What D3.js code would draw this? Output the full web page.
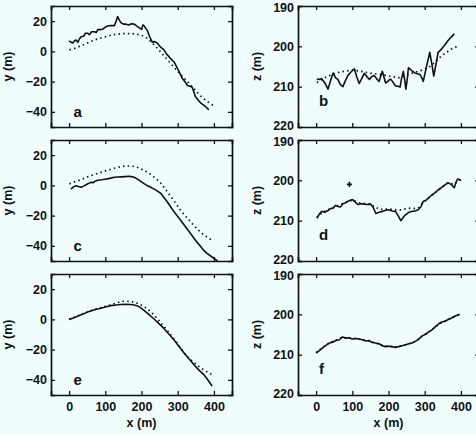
<!DOCTYPE html>
<html>
<head>
<meta charset="utf-8">
<style>
  body { margin: 0; background: #effdfd; }
  svg { display: block; }
  text { font-family: "Liberation Sans", Arial, sans-serif; font-weight: bold; fill: #111; }
</style>
<script src="https://cdnjs.cloudflare.com/ajax/libs/d3/7.8.5/d3.min.js"></script>
</head>
<body>
<div id="chart"></div>
<script>
// panel a: horizontal track y vs x, measured (solid) and model (dotted)
var aSolid = [[0,7],[6,6],[10,5.5],[15,7],[19,7.5],[24,6],[28,8],[33,9.7],[40,10],[45,12],[51,12],[56,11],[62,13],[70,13],[75,12.5],[80,14.5],[88,14.4],[95,15],[100,16],[106,16.8],[115,17],[125,17],[130,20],[134,23],[138,21],[143,19],[150,18],[157,18],[165,17.5],[172,18.2],[180,18],[188,16.5],[193,15.7],[200,14.5],[204,17.5],[207,17],[212,15],[216,14],[222,10],[230,6],[236,6.5],[244,5.4],[252,3],[262,1],[270,-2],[276,-3.5],[281,-5],[290,-7],[299,-11],[305,-14],[313,-18],[320,-20],[327,-22.6],[334,-23],[340,-23.7],[345,-27],[349,-30],[356,-32],[363,-34],[372,-35.5],[382,-37.6],[386,-38.7]];
var aDotted = [[1,1],[15,2],[33,3.7],[50,5.5],[70,7.5],[90,9],[106,10],[120,11],[134,11.4],[150,11.8],[171,11.8],[185,11.5],[198,10.8],[208,9.8],[216,8.6],[230,5.5],[244,2],[258,-1.8],[271,-5.4],[285,-9.2],[299,-13],[313,-16.5],[327,-20],[340,-23.5],[354,-27],[365,-29.8],[376,-32],[388,-34.2],[400,-36]];

// panel b: elevation z vs x
var bSolid = [[2,208.1],[9,208.2],[15,208],[24,209],[33,210.6],[40,208.5],[47,206.6],[54,207.8],[60,208.2],[67,209.5],[74,210],[81,208.5],[88,207.2],[97,206.3],[106,205.6],[112,207.5],[119,209.2],[126,208],[133,206.7],[140,207.5],[147,208.2],[153,207.6],[160,207.2],[167,208],[174,208.7],[179,207.3],[183,206.2],[188,207.8],[192,209.1],[198,208.7],[205,208.1],[212,208.8],[219,209.8],[226,209.9],[232,210.1],[236,208],[241,206.2],[245,208.5],[248,210.6],[252,208],[255,205.3],[264,206],[273,206.6],[280,206.8],[287,207],[292,207.8],[296,208.7],[305,205],[314,201.5],[320,204.5],[325,207.4],[331,204.5],[337,201.5],[343,201],[350,200.3],[357,199.5],[364,198.6],[373,197.7],[382,196.9]];
var bDotted = [[2,209],[15,208.2],[33,207.4],[50,206.8],[65,206.4],[85,206.1],[101,205.9],[125,206.2],[147,206.6],[170,206.9],[192,207.2],[210,207.5],[228,207.8],[242,207.4],[255,207],[270,206.5],[282,206.2],[296,205.8],[310,205.3],[328,204],[346,202.4],[360,201.5],[373,200.7],[385,200.2],[395,199.9]];

// panel c
var cSolid = [[5,-2.5],[12,-1],[19,-0.2],[26,-0.8],[33,-1.3],[40,-0.5],[47,0.4],[53,1.2],[60,2],[67,1.8],[72,2.8],[79,3.4],[90,3.7],[98,4],[106,4.3],[115,4.8],[125,5.4],[135,5.5],[143,5.6],[155,5.8],[166,6],[172,5.8],[180,5.4],[190,4],[198,2.7],[207,1.2],[216,-0.2],[226,-1.3],[235,-2.5],[244,-3.8],[253,-5.2],[262,-8],[271,-10.8],[280,-14],[290,-17.5],[299,-20.2],[308,-23],[322,-27.5],[336,-32],[345,-35],[354,-37.7],[363,-40.3],[372,-43],[381,-45],[391,-46.7],[400,-48.2],[410,-50]];
var cDotted = [[1,1],[15,2.3],[33,3.8],[50,5.5],[70,7.2],[88,8.6],[106,10],[125,11.3],[143,12.4],[158,12.8],[171,12.8],[185,12.2],[198,11],[212,9.3],[226,7.2],[240,4.5],[253,1.6],[267,-2.9],[281,-7.4],[295,-12],[308,-16.4],[322,-20.5],[336,-24.3],[350,-27.8],[363,-31],[380,-34],[396,-36.6]];

// panel d
var dSolid = [[2,209.4],[8,208.5],[15,207.7],[24,207.9],[33,207.5],[40,207],[47,206.9],[54,206.2],[60,206.5],[67,206.6],[74,205.8],[81,205.6],[88,205.2],[95,204.9],[101,204.8],[108,205.4],[115,206],[124,205.8],[133,205.9],[142,206],[151,205.9],[158,206.8],[165,208.2],[174,207.9],[183,207.7],[192,207.4],[201,207.3],[210,207.6],[219,207.7],[227,208.8],[234,210],[240,209.3],[246,208.6],[255,208],[264,207.7],[273,207.6],[282,207.3],[290,206.5],[296,205.2],[303,205],[310,204.4],[319,203.7],[328,203.1],[337,202.4],[346,201.8],[355,201.2],[364,200.6],[373,201],[382,201.8],[386,200.5],[391,199.7],[400,199.9]];
var dDotted = [[2,209.2],[20,207.8],[40,207],[60,206.3],[80,205.5],[101,204.9],[120,205.6],[150,205.9],[175,207.2],[200,207.1],[220,207.3],[237,207.3],[255,206.9],[270,207],[282,206.9],[296,205.4],[310,204.4],[328,203.1],[346,201.8],[364,200.7],[382,200.9],[400,199.8]];
var dMarker = [[92, 201]];

// panel e
var eSolid = [[0,0],[10,0.8],[23,2],[37,3.4],[51,4.8],[70,6.3],[88,7.4],[100,8.2],[115,9.1],[130,9.5],[143,9.8],[157,9.9],[170,9.8],[180,9.5],[189,8.9],[198,7.6],[207,5.9],[220,3.3],[234,0.4],[248,-2.8],[262,-6],[276,-9.8],[290,-13.7],[303,-17.8],[317,-22],[331,-26.1],[345,-30],[358,-33.4],[372,-36.5],[384,-40.2],[395,-44]];
var eDotted = [[0,0],[23,2.2],[51,5],[88,7.8],[115,9.6],[130,10.8],[143,11.7],[152,12],[161,12],[175,11.6],[189,10.6],[203,9],[216,7],[230,3.9],[244,0.4],[257,-3.4],[271,-7.2],[285,-11.5],[299,-15.9],[312,-20.2],[326,-24.6],[345,-28.6],[363,-32],[380,-34.5],[395,-36.5]];

// panel f
var fSolid = [[0,209.6],[9,209],[18,208.3],[27,207.7],[37,207.1],[46,206.9],[55,206.5],[64,206.3],[73,205.6],[82,205.9],[91,205.8],[100,206.1],[110,206],[119,206.1],[128,206.3],[137,206.6],[146,206.5],[155,207],[164,207.1],[174,207.3],[183,207.8],[192,208],[201,207.9],[210,208],[219,208.2],[228,208],[237,207.8],[246,207.6],[256,207.3],[265,207.1],[274,206.7],[283,206.2],[292,205.4],[301,205],[310,204.4],[319,203.9],[329,203.1],[338,202.4],[347,201.9],[356,201.7],[365,201.3],[374,200.9],[384,200.4],[390,200.2],[397,200]];
var fDotted = [[0,209.5],[18,208.2],[37,207],[55,206.4],[73,205.7],[91,205.9],[110,206],[128,206.3],[146,206.6],[164,207.1],[183,207.7],[201,207.9],[219,208.1],[237,207.8],[256,207.3],[274,206.7],[292,205.5],[310,204.5],[329,203.2],[347,202],[365,201.3],[384,200.5],[397,200]];

var xTicks = [0, 100, 200, 300, 400];
var yTicks = [-40, -20, 0, 20];
var zTicks = [190, 200, 210, 220];
var xDomain = [-50, 450];
var yDomain = [-50, 30];
var zDomain = [190, 220];

var W = 476, H = 434;
var svg = d3.select("#chart").append("svg").attr("width", W).attr("height", H);
svg.append("rect").attr("width", W).attr("height", H).attr("fill", "#effdfd");

var colX = [51, 298], rowY = [6, 140, 274];
var pw = 181, ph = 121;

var panels = [
  {col: 0, row: 0, letter: "a", kind: "y", solid: aSolid, dotted: aDotted},
  {col: 1, row: 0, letter: "b", kind: "z", solid: bSolid, dotted: bDotted},
  {col: 0, row: 1, letter: "c", kind: "y", solid: cSolid, dotted: cDotted},
  {col: 1, row: 1, letter: "d", kind: "z", solid: dSolid, dotted: dDotted, marks: dMarker},
  {col: 0, row: 2, letter: "e", kind: "y", solid: eSolid, dotted: eDotted},
  {col: 1, row: 2, letter: "f", kind: "z", solid: fSolid, dotted: fDotted}
];

panels.forEach(function(p, i) {
  var x0 = colX[p.col], y0 = rowY[p.row];
  var x = d3.scaleLinear().domain(xDomain).range([0, pw]);
  var y = p.kind === "y"
    ? d3.scaleLinear().domain(yDomain).range([ph, 0])
    : d3.scaleLinear().domain(zDomain).range([0, ph]);
  var ticks = p.kind === "y" ? yTicks : zTicks;

  var g = svg.append("g").attr("transform", "translate(" + x0 + "," + y0 + ")");

  g.append("clipPath").attr("id", "clip" + i)
    .append("rect").attr("width", pw).attr("height", ph);

  // axes with inward ticks, MATLAB box style
  var left = d3.axisLeft(y).tickValues(ticks).tickSize(-4).tickPadding(4).tickFormat(d3.format("d"));
  var right = d3.axisRight(y).tickValues(ticks).tickSize(-4).tickFormat("");
  var top = d3.axisTop(x).tickValues(xTicks).tickSize(-4).tickFormat("");
  var bottom = d3.axisBottom(x).tickValues(xTicks).tickSize(-4).tickPadding(7)
    .tickFormat(p.row === 2 ? d3.format("d") : "");

  [["l", left, 0, 0], ["r", right, pw, 0], ["t", top, 0, 0], ["b", bottom, 0, ph]].forEach(function(a) {
    var ag = g.append("g").attr("transform", "translate(" + a[2] + "," + a[3] + ")").call(a[1]);
    ag.select(".domain").attr("stroke", "#111").attr("stroke-width", 1.7);
    ag.selectAll(".tick line").attr("stroke", "#111").attr("stroke-width", 1.3);
    ag.selectAll(".tick text").style("font-size", "12.5px").attr("fill", "#111")
      .style("font-family", '"Liberation Sans", Arial, sans-serif').style("font-weight", "bold");
  });
  // keep the stacked 220 / 190 labels of the right column from touching
  if (p.kind === "z") {
    g.selectAll(".tick text").filter(function(d) { return d === 220; }).attr("dy", "0.2em");
    g.selectAll(".tick text").filter(function(d) { return d === 190; }).attr("dy", "0.4em");
  }

  var line = d3.line().x(function(d) { return x(d[0]); }).y(function(d) { return y(d[1]); });
  var plot = g.append("g").attr("clip-path", "url(#clip" + i + ")");
  plot.append("path").datum(p.dotted).attr("d", line).attr("fill", "none")
    .attr("stroke", "#111").attr("stroke-width", 1.7).attr("stroke-dasharray", "1.5,3.2");
  plot.append("path").datum(p.solid).attr("d", line).attr("fill", "none")
    .attr("stroke", "#111").attr("stroke-width", 1.6).attr("stroke-linejoin", "round");

  if (p.marks) {
    plot.selectAll(".mk").data(p.marks).enter().append("path")
      .attr("d", d3.symbol().type(d3.symbolCross).size(14))
      .attr("transform", function(d) { return "translate(" + x(d[0]) + "," + y(d[1]) + ")"; })
      .attr("fill", "#111");
  }

  var lv = p.kind === "y" ? -40 : 213.5;
  g.append("text").attr("x", x(p.kind === "y" ? 12 : 8)).attr("y", y(lv) + 5)
    .style("font-size", "15px").text(p.letter);

  g.append("text")
    .attr("transform", "translate(" + (p.kind === "y" ? -39 : -37) + "," + (ph / 2) + ") rotate(-90)")
    .attr("text-anchor", "middle").style("font-size", "12.5px")
    .text(p.kind === "y" ? "y (m)" : "z (m)");

  if (p.row === 2) {
    g.append("text").attr("x", x(200)).attr("y", ph + 32)
      .attr("text-anchor", "middle").style("font-size", "12.5px").text("x (m)");
  }
});
</script>
</body>
</html>
